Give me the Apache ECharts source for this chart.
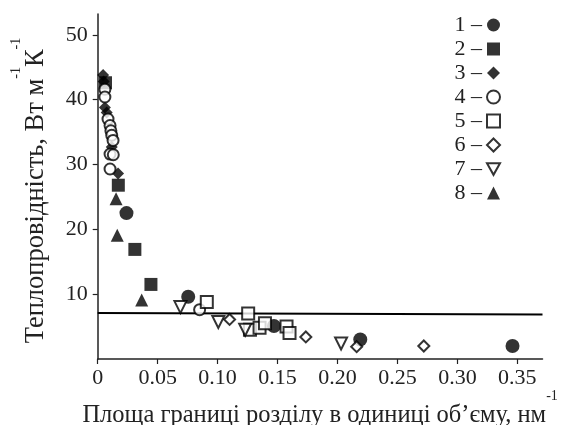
<!DOCTYPE html>
<html>
<head>
<meta charset="utf-8">
<script src="https://cdn.jsdelivr.net/npm/echarts@6/dist/echarts.min.js"></script>
<style>html,body{margin:0;padding:0;background:#fff}#c{width:570px;height:425px}</style>
</head>
<body>
<div id="c"></div>
<script>
// ---- data ----
const seriesNames = ['1','2','3','4','5','6','7','8'];
const s1 = [[0.024,22.5],[0.0755,9.6],[0.147,5.1],[0.219,3.0],[0.346,2.0]];
const s2 = [[0.0065,42.6],[0.0172,26.8],[0.031,16.9],[0.0444,11.5]];
const s3 = [[0.0045,43.8],[0.005,42.8],[0.006,38.8],[0.0075,38.0],[0.0117,32.7],[0.017,28.6]];
const s4 = [[0.006,41.6],[0.006,40.4],[0.0086,37.0],[0.0103,36.0],[0.011,35.2],[0.0117,34.5],[0.0128,33.7],[0.0103,31.6],[0.0130,31.5],[0.0103,29.3],[0.085,7.6]];
const s5 = [[0.091,8.8],[0.1255,7.0],[0.127,4.5],[0.135,4.8],[0.1395,5.5],[0.1575,5.0],[0.160,4.0]];
const s6 = [[0.110,6.1],[0.1736,3.4],[0.216,1.9],[0.272,2.0]];
const s7 = [[0.069,8.0],[0.1006,5.7],[0.123,4.5],[0.203,2.4]];
const s8 = [[0.0153,24.7],[0.0163,19.1],[0.0367,9.1]];
const fitLine = [[0,7.1],[0.371,6.85]];
const xTicks = [0,0.05,0.10,0.15,0.20,0.25,0.30,0.35];
const yTicks = [10,20,30,40,50];
const xTitle = 'Площа границі розділу в одиниці об’єму, нм';
const yTitleA = 'Теплопровідність, Вт м';
const yTitleB = 'К';

const FONT = 'Liberation Serif';
const filled = {color:'#000'};
const open = {color:'#fff', borderColor:'#000', borderWidth:2};
const triDown = 'path://M0,0L10,0L5,9Z';

function sc(name, data, symbol, size, style){
  return {name, type:'scatter', data, symbol, symbolSize:size, itemStyle:style, z:3};
}

const chart = echarts.init(document.getElementById('c'), null, {renderer:'canvas'});
chart.setOption({
  animation:false,
  backgroundColor:'#fff',
  textStyle:{fontFamily:FONT},
  grid:{left:97.7, right:27.5, top:14, bottom:66, containLabel:false, outerBoundsMode:'none'},
  legend:{
    data:seriesNames, orient:'vertical', right:64, top:9, align:'right',
    itemWidth:13, itemHeight:13, itemGap:2,
    formatter: n => n + ' \u2013',
    textStyle:{fontFamily:FONT, fontSize:22, color:'#222'}
  },
  xAxis:{
    type:'value', min:0, max:0.371,
    name:'{a|' + xTitle + '}{s|-1}',
    nameLocation:'middle', nameGap:30, nameMoveOverlap:false,
    nameTextStyle:{fontFamily:FONT, fontSize:24.5, rich:{
      a:{fontFamily:FONT, fontSize:24.5, color:'#222', lineHeight:39, verticalAlign:'bottom'},
      s:{fontFamily:FONT, fontSize:14, color:'#222', lineHeight:14, verticalAlign:'top'}
    }},
    axisLine:{lineStyle:{color:'#222', width:1.5}},
    axisTick:{customValues:xTicks, length:5, lineStyle:{color:'#222', width:1.2}},
    axisLabel:{customValues:xTicks, margin:8, fontFamily:FONT, fontSize:22, color:'#222',
      formatter: v => v === 0 ? '0' : v.toFixed(2)},
    splitLine:{show:false}
  },
  yAxis:{
    type:'value', min:0, max:53.2,
    name:'{a|' + yTitleA + '}{s|-1}{a|' + yTitleB + '}{s|-1}',
    nameLocation:'middle', nameGap:48, nameRotate:90, nameMoveOverlap:false,
    nameTextStyle:{fontFamily:FONT, fontSize:26.5, padding:[0,8,0,0], rich:{
      a:{fontFamily:FONT, fontSize:26.5, color:'#222', lineHeight:40, verticalAlign:'bottom'},
      s:{fontFamily:FONT, fontSize:14, color:'#222', lineHeight:14, verticalAlign:'top'}
    }},
    axisLine:{lineStyle:{color:'#222', width:1.5}},
    axisTick:{customValues:yTicks, length:5, lineStyle:{color:'#222', width:1.2}},
    axisLabel:{customValues:yTicks, margin:10, fontFamily:FONT, fontSize:22, color:'#222'},
    splitLine:{show:false}
  },
  series:[
    {type:'line', data:fitLine, symbol:'none', lineStyle:{color:'#000', width:2}, z:2, silent:true},
    sc('1', s1, 'circle', 14, filled),
    sc('2', s2, 'rect', 13, filled),
    sc('3', s3, 'diamond', 12, filled),
    sc('4', s4, 'circle', 11, open),
    sc('5', s5, 'rect', 12, open),
    sc('6', s6, 'diamond', 11, open),
    sc('7', s7, triDown, 12, open),
    sc('8', s8, 'triangle', 13, filled)
  ]
});
</script>
</body>
</html>
